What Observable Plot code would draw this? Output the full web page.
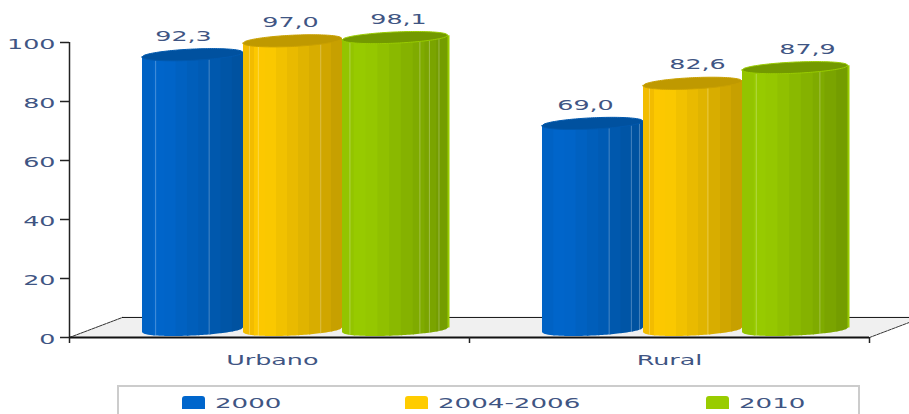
<!DOCTYPE html>
<html>
<head>
<meta charset="utf-8">
<script src="https://cdn.jsdelivr.net/npm/d3@7"></script>
<script src="https://cdn.jsdelivr.net/npm/@observablehq/plot@0.6"></script>
<style>
  html, body { margin: 0; padding: 0; background: #fff; overflow: hidden; }
  #chart { position: relative; width: 909px; height: 414px; overflow: hidden; font-family: "DejaVu Sans", sans-serif; }
  #chart svg { display: block; position: absolute; left: 0; top: 0; }
  .legend { position: absolute; left: 117px; top: 385px; width: 743px; height: 40px; border: 2px solid #ccc; box-sizing: border-box; }
  .swatch { position: absolute; top: 9px; width: 23px; height: 13px; border-radius: 3px 3px 0 0; }
  .entry { position: absolute; top: 6px; font-size: 14.5px; line-height: 20px; color: #3f5583; transform: scaleX(1.8); transform-origin: left center; white-space: nowrap; }
</style>
</head>
<body>
<div id="chart"></div>
<script>
// Coverage by area of residence and survey period
const categories = ["Urbano", "Rural"];
const periods = ["2000", "2004-2006", "2010"];
const urbano = [92.3, 97.0, 98.1];
const rural = [69.0, 82.6, 87.9];
const yTicks = [0, 20, 40, 60, 80, 100];

// Cylinder shading per period: left edge, brightest band, right edge, lid, rim
const shades = [
  {edge: "#0062c4", peak: "#0066cc", dark: "#004f99", lid: "#00519f", rim: "#0058ad", swatch: "#0066cc"},
  {edge: "#f2bc00", peak: "#ffcc00", dark: "#bf9900", lid: "#bf9900", rim: "#c9a000", swatch: "#ffcc00"},
  {edge: "#93c400", peak: "#99cc00", dark: "#6f9600", lid: "#739900", rim: "#99cc00", swatch: "#99cc00"}
];

// Cylinder edges inside a category slot, and the 3D projection offsets (in axis units)
const edges = [0.1825, 0.435, 0.6825, 0.9475];
const strips = 9, samples = 24, stripOverlap = 0.12;
const topLift = 3.4, baseLift = 2.4, radiusY = 1.9, tilt = 0.8;
const floorDepthX = 0.1325, floorDepthY = 6.8;

// Highlight lines on each cylinder, as a share of its width, by category then period
const glints = [
  [[0.13, 0.66], [0.06, 0.15, 0.78], [0.07, 0.73, 0.82, 0.91]],
  [[0.66, 0.88, 0.96], [0.06, 0.65], [0.13, 0.73]]
];
// Value label centres inside a category slot
const labelSlots = [[0.285, 0.5525, 0.8225], [0.29, 0.57, 0.845]];

const bars = categories.flatMap((name, c) =>
  (c === 0 ? urbano : rural).map((value, p) => ({
    category: name, c, p, value,
    x1: c + edges[p], x2: c + edges[p + 1],
    label: d3.format(".1f")(value).replace(".", ","),
    labelX: c + labelSlots[c][p]
  }))
);

const u = (t) => 2 * t - 1;
const arc = (t) => Math.sqrt(Math.max(0, 1 - u(t) * u(t)));
const bandColor = (s, t) =>
  t < 0.15 ? d3.interpolateRgb(s.edge, s.peak)(t / 0.15)
           : d3.interpolateRgb(s.peak, s.dark)((t - 0.15) / 0.85);

// One area per vertical band of a cylinder, from the lower rim to the lid's centre line.
// Each band runs slightly under the next one so no seams show between them.
const bodyRows = bars.flatMap((b, i) => {
  const s = shades[b.p], rows = [];
  for (let k = 0; k < strips; ++k) {
    const t0 = k / strips;
    const t1 = Math.min(1, (k + 1 + stripOverlap) / strips);
    for (let j = 0; j <= 6; ++j) {
      const t = t0 + (t1 - t0) * j / 6;
      rows.push({
        id: `${i}-${k}`, color: bandColor(s, t0),
        x: b.x1 + (b.x2 - b.x1) * t,
        y1: baseLift - radiusY * arc(t) + tilt * u(t),
        y2: b.value + topLift + tilt * u(t)
      });
    }
  }
  return rows;
});

// Elliptical lid of each cylinder
const lidRows = bars.flatMap((b, i) =>
  d3.range(samples * 2 + 1).map((k) => {
    const t = k / (samples * 2), c = b.value + topLift + tilt * u(t);
    return {
      id: i, color: shades[b.p].lid, rim: shades[b.p].rim,
      x: b.x1 + (b.x2 - b.x1) * t,
      y1: c - radiusY * arc(t), y2: c + radiusY * arc(t)
    };
  })
);

const glintRows = bars.flatMap((b) =>
  glints[b.c][b.p].map((t) => ({
    x: b.x1 + (b.x2 - b.x1) * t,
    y1: baseLift - radiusY * arc(t) + tilt * u(t),
    y2: b.value + topLift - radiusY * arc(t) + tilt * u(t)
  }))
);

// Bright right-hand rim on the last cylinder of each group
const rimRows = bars.filter((b) => b.p === 2).map((b) => ({
  x: b.x2, color: shades[b.p].rim,
  y1: baseLift + tilt, y2: b.value + topLift + tilt
}));

const floorRows = [
  {x: 0, y1: 0, y2: 0},
  {x: floorDepthX, y1: 0, y2: floorDepthY},
  {x: 2, y1: 0, y2: floorDepthY},
  {x: 2 + floorDepthX, y1: floorDepthY, y2: floorDepthY}
];

const ink = "#3f5583";
const chart = Plot.plot({
  width: 909,
  height: 384,
  marginLeft: 69,
  marginRight: 40,
  marginTop: 42,
  marginBottom: 47,
  style: {fontFamily: "DejaVu Sans, sans-serif", fontSize: "14.5px", background: "transparent", overflow: "hidden"},
  x: {domain: [0, 2], axis: null},
  y: {domain: [0, 100], axis: null},
  color: {type: "identity"},
  marks: [
    Plot.areaY(floorRows, {x: "x", y1: "y1", y2: "y2", fill: "#f0f0f0", curve: "linear"}),
    Plot.line([[0, 0], [floorDepthX, floorDepthY]], {stroke: "#333", strokeWidth: 1, strokeDasharray: "3 1"}),
    Plot.line([[2, 0], [2 + floorDepthX, floorDepthY]], {stroke: "#333", strokeWidth: 1, strokeDasharray: "3 1"}),
    Plot.ruleY([floorDepthY], {x1: floorDepthX, x2: 2 + floorDepthX, stroke: "#111", strokeWidth: 1}),
    Plot.areaY(bodyRows, {x: "x", y1: "y1", y2: "y2", z: "id", fill: "color", curve: "linear"}),
    Plot.ruleX(rimRows, {x: "x", y1: "y1", y2: "y2", stroke: "color", strokeWidth: 2}),
    Plot.ruleX(glintRows, {x: "x", y1: "y1", y2: "y2", stroke: "#fff", strokeOpacity: 0.28, strokeWidth: 1}),
    Plot.areaY(lidRows, {x: "x", y1: "y1", y2: "y2", z: "id", fill: "color", stroke: "rim", strokeWidth: 1, curve: "linear"}),
    Plot.text(bars, {x: "labelX", y: "value", text: "label", dy: -29, fill: ink}),
    Plot.ruleX([0], {y1: 0, y2: 100, stroke: "#222", strokeWidth: 1.5}),
    Plot.ruleY([0], {x1: 0, x2: 2, stroke: "#111", strokeWidth: 2}),
    // Tick marks and tick labels are separate so the labels can sit a little lower
    Plot.axisY({ticks: yTicks, tickSize: 9, tickFormat: () => "", stroke: "#222", strokeWidth: 1.5, label: null}),
    Plot.axisY({ticks: yTicks, tickSize: 0, tickPadding: 14, dy: 2, fill: ink, label: null}),
    Plot.axisX({ticks: [0, 1, 2], tickSize: 6, tickFormat: () => "", stroke: "#222", strokeWidth: 1.5, label: null}),
    Plot.axisX({ticks: [0.507, 1.5], tickSize: 0, tickPadding: 17, tickFormat: (d) => categories[Math.floor(d)], fill: ink, label: null})
  ]
});

const root = document.getElementById("chart");
root.appendChild(chart);

// The chart's lettering is set wide: stretch each label's glyphs about its anchor
chart.querySelectorAll("text").forEach((node) => {
  const length = node.getComputedTextLength();
  if (length > 0) {
    node.setAttribute("textLength", length * 1.75);
    node.setAttribute("lengthAdjust", "spacingAndGlyphs");
  }
});

// Legend strip under the plot
const legend = d3.select(root).append("div").attr("class", "legend");
const swatchLeft = [63, 286, 587];
periods.forEach((period, i) => {
  legend.append("div").attr("class", "swatch")
    .style("left", `${swatchLeft[i]}px`).style("background", shades[i].swatch);
  legend.append("div").attr("class", "entry")
    .style("left", `${swatchLeft[i] + 33}px`).text(period);
});
</script>
</body>
</html>
